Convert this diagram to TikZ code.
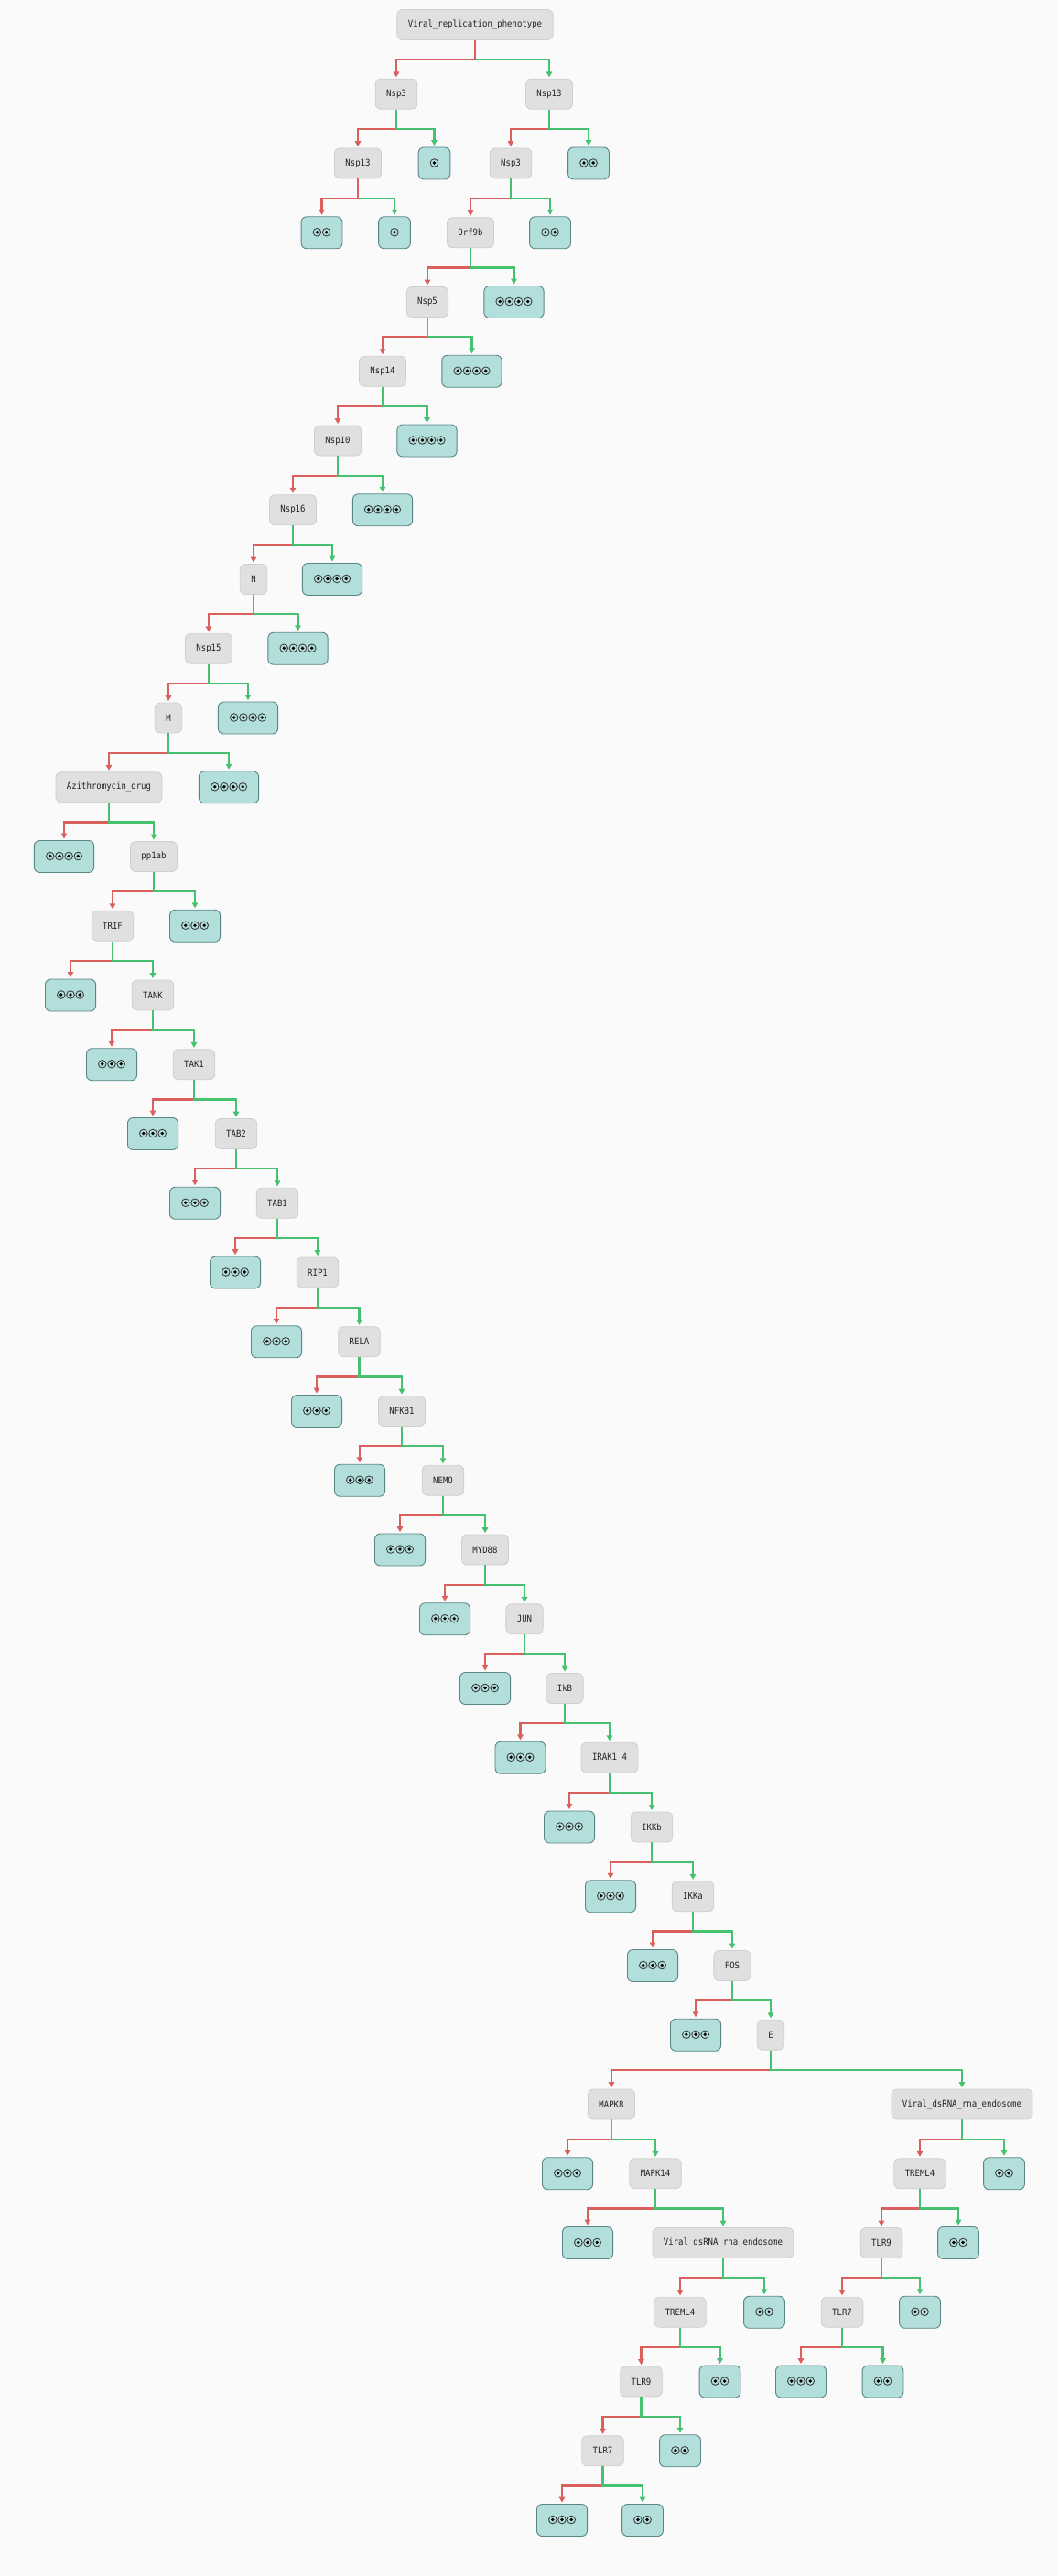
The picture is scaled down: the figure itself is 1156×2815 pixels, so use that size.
\documentclass[tikz,border=0pt]{standalone}
\usepackage{fontspec}
\usetikzlibrary{arrows.meta}
\newfontfamily\monof[FakeStretch=0.9]{DejaVu Sans Mono}
\newfontfamily\lmm{latinmodern-math.otf}
\newif\ifhavesym
\AtBeginDocument{\begingroup\lmm\iffontchar\font"29BF\relax\global\havesymtrue\fi\endgroup}
\definecolor{bgc}{HTML}{FAFAFA}
\definecolor{decfill}{HTML}{E0E0E0}
\definecolor{decdraw}{HTML}{CFCFCF}
\definecolor{leaffill}{HTML}{B2DFDB}
\definecolor{leafdraw}{HTML}{5A8585}
\definecolor{noc}{HTML}{D9605C}
\definecolor{yesc}{HTML}{46C16F}
\definecolor{txt}{HTML}{222222}
\definecolor{ringc}{HTML}{3A3A3A}
\newcommand\br[3]{%
  \draw[redline] (#1.south) -- ++(0,-21.4) -| (#2.north);
  \draw[greenline] (#1.south) -- ++(0,-21.4) -| (#3.north);}
\newcommand\brr[3]{%
  \draw[greenline] (#1.south) -- ++(0,-21.4) -| (#3.north);
  \draw[redline] (#1.south) -- ++(0,-21.4) -| (#2.north);}
% leaf: name, x, y, number of symbols, symbol text
\newcommand\leaf[5]{%
  \pgfmathsetmacro\lfw{24.5+10.2*#4}%
  \ifhavesym
    \node[leaf, minimum width=\lfw pt, font=\lmm\fontsize{12}{14}\selectfont] (#1) at (#2,#3) {#5};
  \else
    \node[leaf, minimum width=\lfw pt, text opacity=0] (#1) at (#2,#3) {#5};
    \foreach \i in {1,...,#4}{%
      \path (#1.center) ++({(\i-(#4+1)/2)*10.2},0.5) coordinate (symc);
      \draw[symring] (symc) circle[radius=4.3pt];
      \fill[symdot] (symc) circle[radius=1.9pt];}
  \fi}
\tikzset{
  dec/.style={draw=decdraw, line width=0.8pt, fill=decfill, rounded corners=6pt,
    minimum height=33pt, inner xsep=12pt, inner ysep=0pt, text=txt,
    font=\monof\fontsize{10}{12}\selectfont},
  leaf/.style={draw=leafdraw, line width=0.9pt, fill=leaffill, rounded corners=6pt,
    minimum height=35pt, inner sep=0pt, text=black},
  symring/.style={draw=ringc, line width=0.85pt},
  symdot/.style={fill=black},
  redline/.style={draw=noc, line width=2.2pt, -{Triangle[width=6.5pt,length=6pt]}, shorten >=1.5pt},
  greenline/.style={draw=yesc, line width=2.2pt, -{Triangle[width=6.5pt,length=6pt]}, shorten >=1.5pt},
}
\begin{document}
\begin{tikzpicture}[x=1pt,y=1pt]
\fill[bgc] (0,0) rectangle (1156,-2815);
\useasboundingbox (0,0) rectangle (1156,-2815);
% level 0-3
\node[dec] (root) at (519,-27) {Viral\_replication\_phenotype};
\node[dec] (a1) at (433,-102.75) {Nsp3};
\node[dec] (b1) at (600,-102.75) {Nsp13};
\node[dec] (a2) at (391,-178.5) {Nsp13};
\leaf{la2}{474.5}{-178.5}{1}{⦿}
\node[dec] (b2) at (558,-178.5) {Nsp3};
\leaf{lb2}{643}{-178.5}{2}{⦿⦿}
\leaf{la3a}{351.5}{-254.25}{2}{⦿⦿}
\leaf{la3b}{431}{-254.25}{1}{⦿}
\node[dec] (b3) at (514,-254.25) {Orf9b};
\leaf{lb3}{601}{-254.25}{2}{⦿⦿}
% chain
\node[dec] (n4) at (467,-330) {Nsp5};
\leaf{l4}{561.5}{-330}{4}{⦿⦿⦿⦿}
\node[dec] (n5) at (418,-405.75) {Nsp14};
\leaf{l5}{515.5}{-405.75}{4}{⦿⦿⦿⦿}
\node[dec] (n6) at (369,-481.5) {Nsp10};
\leaf{l6}{466.5}{-481.5}{4}{⦿⦿⦿⦿}
\node[dec] (n7) at (320,-557.25) {Nsp16};
\leaf{l7}{418}{-557.25}{4}{⦿⦿⦿⦿}
\node[dec] (n8) at (277,-633) {N};
\leaf{l8}{363}{-633}{4}{⦿⦿⦿⦿}
\node[dec] (n9) at (228,-708.75) {Nsp15};
\leaf{l9}{325.5}{-708.75}{4}{⦿⦿⦿⦿}
\node[dec] (n10) at (184,-784.5) {M};
\leaf{l10}{271}{-784.5}{4}{⦿⦿⦿⦿}
\node[dec] (n11) at (119,-860.25) {Azithromycin\_drug};
\leaf{l11}{250}{-860.25}{4}{⦿⦿⦿⦿}
\leaf{l12}{70}{-936}{4}{⦿⦿⦿⦿}
\node[dec] (n12) at (168,-936) {pp1ab};
\node[dec] (n13) at (123,-1011.75) {TRIF};
\leaf{l13}{213}{-1011.75}{3}{⦿⦿⦿}
\leaf{l14}{77}{-1087.5}{3}{⦿⦿⦿}
\node[dec] (n14) at (167,-1087.5) {TANK};
\leaf{l15}{122}{-1163.25}{3}{⦿⦿⦿}
\node[dec] (n15) at (212,-1163.25) {TAK1};
\leaf{l16}{167}{-1239}{3}{⦿⦿⦿}
\node[dec] (n16) at (258,-1239) {TAB2};
\leaf{l17}{213}{-1314.75}{3}{⦿⦿⦿}
\node[dec] (n17) at (303,-1314.75) {TAB1};
\leaf{l18}{257}{-1390.5}{3}{⦿⦿⦿}
\node[dec] (n18) at (347,-1390.5) {RIP1};
\leaf{l19}{302}{-1466.25}{3}{⦿⦿⦿}
\node[dec] (n19) at (392.5,-1466.25) {RELA};
\leaf{l20}{346}{-1542}{3}{⦿⦿⦿}
\node[dec] (n20) at (439,-1542) {NFKB1};
\leaf{l21}{393}{-1617.75}{3}{⦿⦿⦿}
\node[dec] (n21) at (484,-1617.75) {NEMO};
\leaf{l22}{437}{-1693.5}{3}{⦿⦿⦿}
\node[dec] (n22) at (530,-1693.5) {MYD88};
\leaf{l23}{486}{-1769.25}{3}{⦿⦿⦿}
\node[dec] (n23) at (573,-1769.25) {JUN};
\leaf{l24}{530}{-1845}{3}{⦿⦿⦿}
\node[dec] (n24) at (617,-1845) {IkB};
\leaf{l25}{568.5}{-1920.75}{3}{⦿⦿⦿}
\node[dec] (n25) at (666,-1920.75) {IRAK1\_4};
\leaf{l26}{622}{-1996.5}{3}{⦿⦿⦿}
\node[dec] (n26) at (712,-1996.5) {IKKb};
\leaf{l27}{667}{-2072.25}{3}{⦿⦿⦿}
\node[dec] (n27) at (757,-2072.25) {IKKa};
\leaf{l28}{713}{-2148}{3}{⦿⦿⦿}
\node[dec] (n28) at (800,-2148) {FOS};
\leaf{l29}{760}{-2223.75}{3}{⦿⦿⦿}
\node[dec] (n29) at (842,-2223.75) {E};
% lower subtrees
\node[dec] (n30a) at (668,-2299.5) {MAPK8};
\node[dec] (n30b) at (1051,-2299.5) {Viral\_dsRNA\_rna\_endosome};
\leaf{l31}{620}{-2375.25}{3}{⦿⦿⦿}
\node[dec] (n31a) at (716,-2375.25) {MAPK14};
\node[dec] (n31b) at (1005,-2375.25) {TREML4};
\leaf{l31b}{1097}{-2375.25}{2}{⦿⦿}
\leaf{l32}{642}{-2451}{3}{⦿⦿⦿}
\node[dec] (n32a) at (790,-2451) {Viral\_dsRNA\_rna\_endosome};
\node[dec] (n32b) at (963,-2451) {TLR9};
\leaf{l32b}{1047}{-2451}{2}{⦿⦿}
\node[dec] (n33a) at (743,-2526.75) {TREML4};
\leaf{l33a}{835}{-2526.75}{2}{⦿⦿}
\node[dec] (n33b) at (920,-2526.75) {TLR7};
\leaf{l33b}{1005}{-2526.75}{2}{⦿⦿}
\node[dec] (n34a) at (700.5,-2602.5) {TLR9};
\leaf{l34a}{786.5}{-2602.5}{2}{⦿⦿}
\leaf{l34b}{875}{-2602.5}{3}{⦿⦿⦿}
\leaf{l34c}{964.5}{-2602.5}{2}{⦿⦿}
\node[dec] (n35a) at (658.5,-2678.25) {TLR7};
\leaf{l35a}{743}{-2678.25}{2}{⦿⦿}
\leaf{l36a}{614}{-2754}{3}{⦿⦿⦿}
\leaf{l36b}{702}{-2754}{2}{⦿⦿}
% connectors
\brr{root}{a1}{b1}
\br{a1}{a2}{la2}
\brr{a2}{la3a}{la3b}
\br{b1}{b2}{lb2}
\br{b2}{b3}{lb3}
\br{b3}{n4}{l4}
\br{n4}{n5}{l5}
\br{n5}{n6}{l6}
\br{n6}{n7}{l7}
\br{n7}{n8}{l8}
\br{n8}{n9}{l9}
\br{n9}{n10}{l10}
\br{n10}{n11}{l11}
\br{n11}{l12}{n12}
\br{n12}{n13}{l13}
\br{n13}{l14}{n14}
\br{n14}{l15}{n15}
\br{n15}{l16}{n16}
\br{n16}{l17}{n17}
\br{n17}{l18}{n18}
\br{n18}{l19}{n19}
\br{n19}{l20}{n20}
\br{n20}{l21}{n21}
\br{n21}{l22}{n22}
\br{n22}{l23}{n23}
\br{n23}{l24}{n24}
\br{n24}{l25}{n25}
\br{n25}{l26}{n26}
\br{n26}{l27}{n27}
\br{n27}{l28}{n28}
\br{n28}{l29}{n29}
\br{n29}{n30a}{n30b}
\br{n30a}{l31}{n31a}
\br{n31a}{l32}{n32a}
\br{n32a}{n33a}{l33a}
\br{n33a}{n34a}{l34a}
\br{n34a}{n35a}{l35a}
\br{n35a}{l36a}{l36b}
\br{n30b}{n31b}{l31b}
\br{n31b}{n32b}{l32b}
\br{n32b}{n33b}{l33b}
\br{n33b}{l34b}{l34c}
\end{tikzpicture}
\end{document}
